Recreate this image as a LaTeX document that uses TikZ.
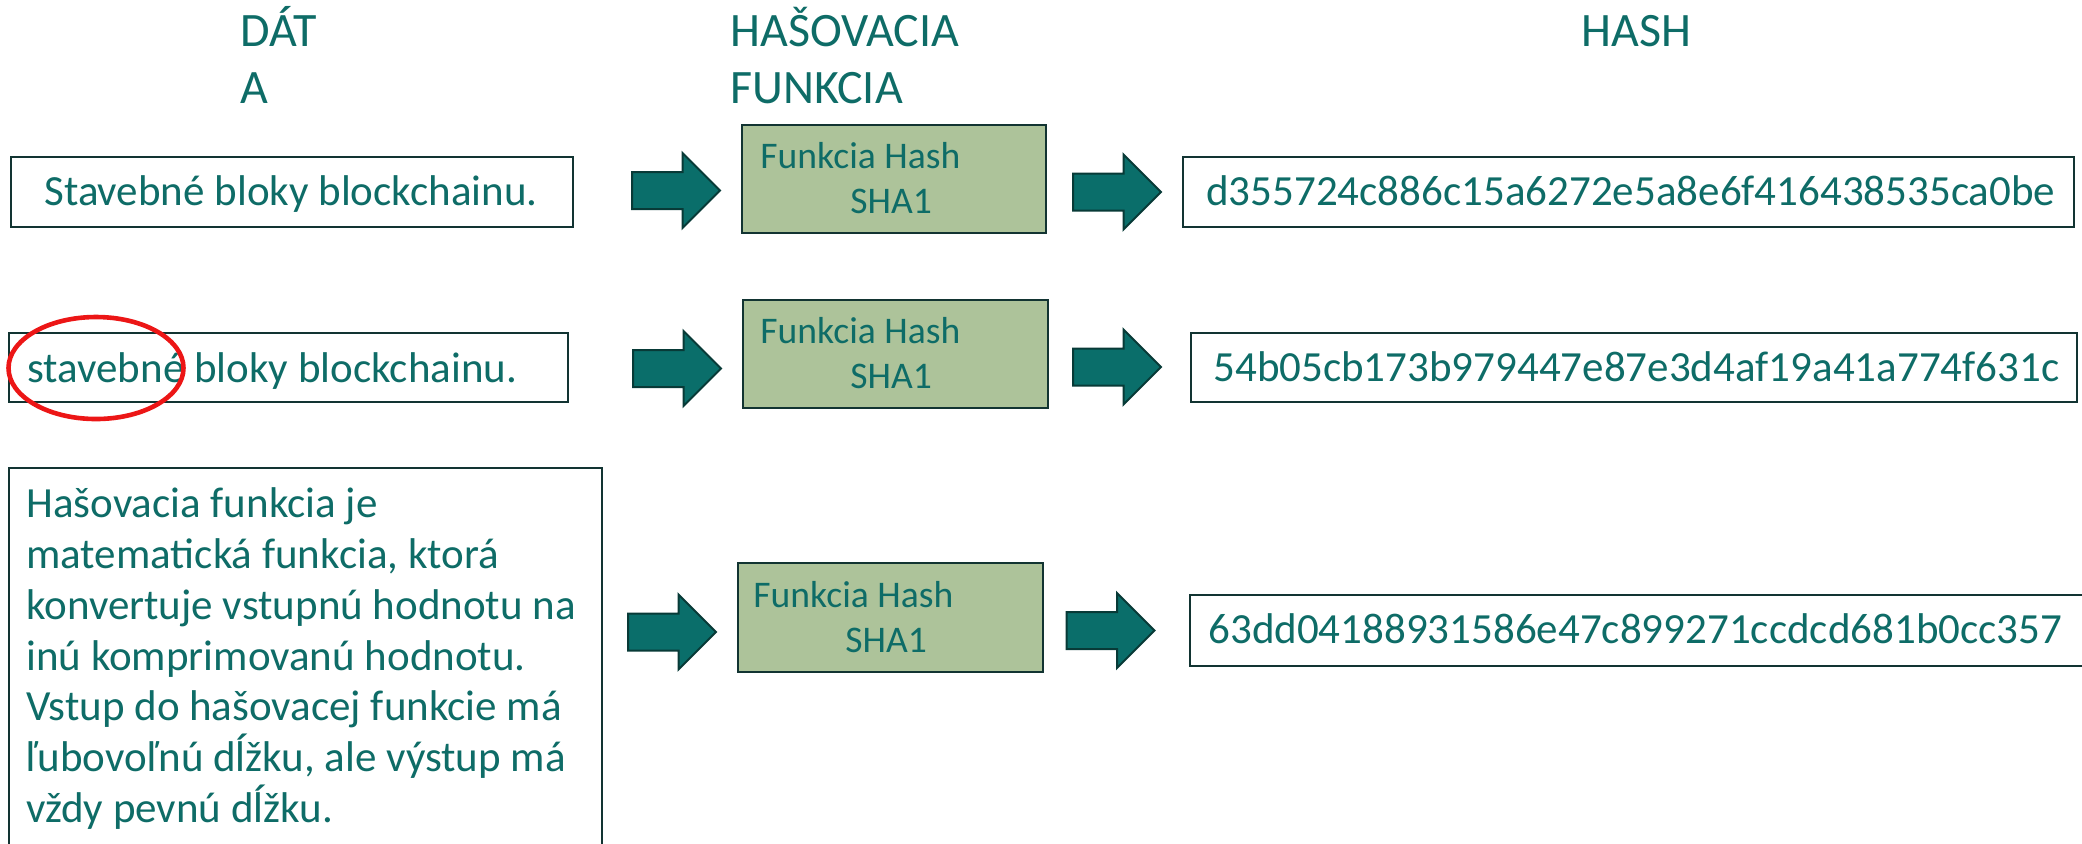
\documentclass[tikz,border=0pt]{standalone}
\usepackage{fontspec}
\setmainfont{Carlito}
\usetikzlibrary{shapes.geometric,shapes.arrows,fit}

\definecolor{tealtext}{RGB}{14,108,103}
\definecolor{arrowfill}{RGB}{10,110,106}
\definecolor{arrowline}{RGB}{8,58,55}
\definecolor{boxline}{RGB}{18,52,50}
\definecolor{fngreen}{RGB}{173,195,154}
\definecolor{markred}{RGB}{236,22,22}

% multi-line text nodes are placed by the baseline of their last line
\tikzset{
  plainbox/.style={draw=boxline, line width=1pt, fill=white, inner sep=0pt},
  fnbox/.style={draw=boxline, line width=1pt, fill=fngreen, inner sep=0pt},
  bodytext/.style={text=tealtext, inner sep=0pt, anchor=base west,
    font=\fontsize{21.5}{25.4}\selectfont},
  headtext/.style={text=tealtext, inner sep=0pt, anchor=base west, align=left,
    font=\fontsize{24}{28.5}\selectfont},
  fntext/.style={text=tealtext, inner sep=0pt, anchor=base west, align=left,
    font=\fontsize{18.8}{22.5}\selectfont},
  blockarrow/.style={single arrow, draw=arrowline, fill=arrowfill, line width=1pt,
    inner xsep=0pt, inner ysep=8.75pt, minimum height=44pt,
    single arrow head extend=9.5pt, single arrow tip angle=90, anchor=tail},
}

\begin{document}
\begin{tikzpicture}[x=0.5pt, y=-0.5pt]
  \useasboundingbox (0,0) rectangle (2082,843);

  % column headings
  \node[headtext] (hdata) at (240,103) {DÁT\\A};
  \node[headtext] (hfunc) at (730,103) {HAŠOVACIA\\FUNKCIA};
  \node[headtext] (hhash) at (1581,46) {HASH};

  % row 1
  \node[plainbox, fit={(10.5,157) (573,227)}] (d1) {};
  \node[bodytext] (d1t) at (44,205) {Stavebné bloky blockchainu.};
  \node[blockarrow] (a1) at (631,190.5) {};
  \node[fnbox, fit={(742,125) (1046,233)}] (f1) {};
  \node[fntext] (f1t) at (760,213) {Funkcia Hash\\\hspace*{45pt}SHA1};
  \node[blockarrow] (b1) at (1072,192) {};
  \node[plainbox, fit={(1183,157) (2074,227)}] (h1) {};
  \node[bodytext] (h1t) at (1206,205) {d355724c886c15a6272e5a8e6f416438535ca0be};

  % row 2
  \node[plainbox, fit={(9,333) (568,402)}] (d2) {};
  \node[bodytext] (d2t) at (27,382) {stavebné bloky blockchainu.};
  \node[blockarrow] (a2) at (632,368.5) {};
  \node[fnbox, fit={(743,300) (1048,408)}] (f2) {};
  \node[fntext] (f2t) at (760,388) {Funkcia Hash\\\hspace*{45pt}SHA1};
  \node[blockarrow] (b2) at (1072,367) {};
  \node[plainbox, fit={(1191,333) (2077,402)}] (h2) {};
  \node[bodytext] (h2t) at (1213,381) {54b05cb173b979447e87e3d4af19a41a774f631c};

  % row 3
  \node[plainbox, fit={(9,468) (602,880)}] (d3) {};
  \node[bodytext, align=left] (d3t) at (26,822.5) {Hašovacia funkcia je\\
    matematická funkcia, ktorá\\
    konvertuje vstupnú hodnotu na\\
    inú komprimovanú hodnotu.\\
    Vstup do hašovacej funkcie má\\
    ľubovoľnú dĺžku, ale výstup má\\
    vždy pevnú dĺžku.};
  \node[blockarrow] (a3) at (627,632) {};
  \node[fnbox, fit={(738,563) (1043,672)}] (f3) {};
  \node[fntext] (f3t) at (753,652) {Funkcia Hash\\\hspace*{46pt}SHA1};
  \node[blockarrow] (b3) at (1065.5,630.5) {};
  \node[plainbox, fit={(1189.5,595) (2120,666)}] (h3) {};
  \node[bodytext] (h3t) at (1208,643) {63dd04188931586e47c899271ccdcd681b0cc357};

  % highlight of the changed word
  \node[ellipse, draw=markred, line width=2.3pt, inner sep=0pt,
        minimum width=87.5pt, minimum height=51pt] (ring) at (96,368) {};
\end{tikzpicture}
\end{document}
